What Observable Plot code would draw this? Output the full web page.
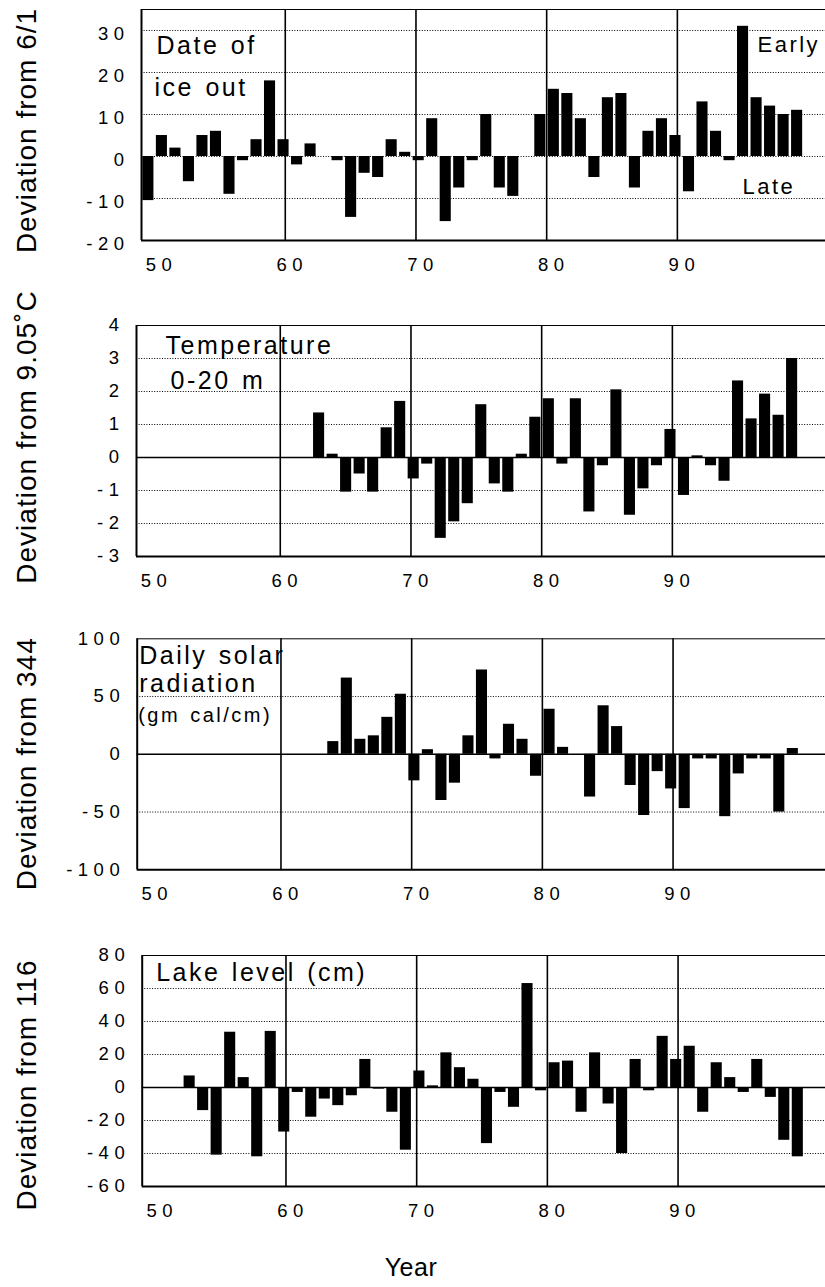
<!DOCTYPE html>
<html>
<head>
<meta charset="utf-8">
<script src="https://cdn.jsdelivr.net/npm/d3@7"></script>
<script src="https://cdn.jsdelivr.net/npm/@observablehq/plot@0.6"></script>
<style>
  body { margin: 0; background: #fff; font-family: "Liberation Sans", Arial, sans-serif; }
  #page { position: relative; width: 825px; height: 1287px; overflow: hidden; background: #fff; }
  .panel { position: absolute; left: 0; width: 825px; }
  .panel svg { position: absolute; left: 0; top: 0; overflow: visible; }
  g[aria-label="y-axis tick label"] text,
  g[aria-label="x-axis tick label"] text { letter-spacing: 5.5px; }
  text.note { letter-spacing: 2.5px; word-spacing: 2px; }
  text.ytitle { letter-spacing: 1px; }
  #year { position: absolute; left: 0; width: 822px; top: 1255px; text-align: center;
          font-size: 25px; line-height: 25px; letter-spacing: 0.5px; }
</style>
</head>
<body>
<div id="page"></div>
<script>
// ---- data -------------------------------------------------------------
const years = [50,51,52,53,54,55,56,57,58,59,60,61,62,63,64,65,66,67,68,69,
               70,71,72,73,74,75,76,77,78,79,80,81,82,83,84,85,86,87,88,89,
               90,91,92,93,94,95,96,97,98];

// Date of ice out, deviation from 6/1 (days; + = early)
const iceOut = [-10.5, 5, 2, -6, 5, 6, -9, -1, 4, 18,
                4, -2, 3, 0, -1, -14.5, -4, -5, 4, 1,
                -1, 9, -15.5, -7.5, -1, 10, -7.5, -9.5, 0, 10,
                16, 15, 9, -5, 14, 15, -7.5, 6, 9, 5,
                -8.4, 13, 6, -1, 31, 14, 12, 10, 11];

// Temperature 0-20 m, deviation from 9.05 C
const temperature = [null, null, null, null, null, null, null, null, null, null,
                     null, null, null, 1.35, 0.1, -1.05, -0.5, -1.05, 0.9, 1.7,
                     -0.65, -0.2, -2.45, -1.95, -1.4, 1.6, -0.8, -1.05, 0.1, 1.22,
                     1.78, -0.2, 1.78, -1.65, -0.25, 2.05, -1.75, -0.95, -0.25, 0.85,
                     -1.15, 0.05, -0.25, -0.72, 2.32, 1.17, 1.92, 1.28, 3.0];

// Daily solar radiation, deviation from 344
const solar = [null, null, null, null, null, null, null, null, null, null,
               null, null, null, null, 11, 66, 13, 16, 32, 52,
               -23, 4, -40, -25, 16, 73, -4, 26, 13, -19,
               39, 6, 0, -37, 42, 24, -27, -53, -15, -30,
               -47, -4, -4, -54, -17, -4, -4, -50, 5];

// Lake level (cm), deviation from 116
const lakeLevel = [null, null, null, 7, -14, -41, 33.5, 6, -42, 34,
                   -27, -3, -18, -7, -11, -5, 17, -1, -15, -38,
                   10, 1, 21, 12, 5, -34, -3, -12, 63, -2,
                   15, 16, -15, 21, -10, -40, 17, -2, 31, 17,
                   25, -15, 15, 6, -3, 17, -6, -32, -42];

const iceTicks = [-20, -10, 0, 10, 20, 30];
const tempTicks = [-3, -2, -1, 0, 1, 2, 3, 4];
const solarTicks = [-100, -50, 0, 50, 100];
const lakeTicks = [-60, -40, -20, 0, 20, 40, 60, 80];
const xTickLabels = [50, 60, 70, 80, 90];
const decadeLines = [60, 70, 80, 90];
const yTitles = ["Deviation from 6/1", "Deviation from 9.05˚C", "Deviation from 344", "Deviation from 116"];
const iceNotes = ["Date of", "ice out", "Early", "Late"];
const tempNotes = ["Temperature", "0-20 m"];
const solarNotes = ["Daily solar", "radiation", "(gm cal/cm)"];
const lakeNotes = ["Lake level (cm)"];
const xTitle = "Year";

// ---- layout -----------------------------------------------------------
const W = 825, H = 290, FRAME_H = 231, PX_PER_YEAR = 13.07, BAR_SPAN = 662.5;
const panels = [
  {values: iceOut, domain: [-20, 35], ticks: iceTicks, title: yTitles[0], top: 0, mt: 9, ml: 141,
   titleDy: 5.5, tickDy: 4, solidZero: false,
   notes: [{t: iceNotes[0], dx: 15, dy: 44.3, s: 25}, {t: iceNotes[1], dx: 13, dy: 86, s: 25},
           {t: iceNotes[2], dx: 616, dy: 42.7, s: 22}, {t: iceNotes[3], dx: 601, dy: 184, s: 22}]},
  {values: temperature, domain: [-3, 4], ticks: tempTicks, title: yTitles[1], top: 315, mt: 10, ml: 136,
   titleDy: -4, tickDy: 0, solidZero: true,
   notes: [{t: tempNotes[0], dx: 29, dy: 28.3, s: 25}, {t: tempNotes[1], dx: 34, dy: 63.3, s: 25}]},
  {values: solar, domain: [-100, 100], ticks: solarTicks, title: yTitles[2], top: 628, mt: 10.3, ml: 136.7,
   titleDy: 9.5, tickDy: 0, solidZero: true,
   notes: [{t: solarNotes[0], dx: 2, dy: 25.5, s: 25}, {t: solarNotes[1], dx: 2, dy: 53.4, s: 25},
           {t: solarNotes[2], dx: 1, dy: 83, s: 20}]},
  {values: lakeLevel, domain: [-60, 80], ticks: lakeTicks, title: yTitles[3], top: 945, mt: 10, ml: 141.7,
   titleDy: 14, tickDy: 0, solidZero: true,
   notes: [{t: lakeNotes[0], dx: 14, dy: 25, s: 25}]}
];

const FONT = '"Liberation Sans", Arial, Helvetica, sans-serif';
const page = document.getElementById("page");

panels.forEach(p => {
  const mb = H - p.mt - FRAME_H;
  const div = document.createElement("div");
  div.className = "panel";
  div.style.top = p.top + "px";
  div.style.height = H + "px";
  page.appendChild(div);

  const [y0, y1] = p.domain;
  const grid = p.ticks.filter(t => t !== y0 && t !== y1 && (t !== 0 || !p.solidZero));

  const bg = Plot.plot({
    width: W, height: H,
    marginLeft: p.ml, marginRight: 0, marginTop: p.mt, marginBottom: mb,
    style: {background: "transparent", overflow: "visible", fontFamily: FONT, color: "black"},
    x: {domain: [49, 49 + (W - p.ml) / PX_PER_YEAR]},
    y: {domain: p.domain},
    marks: [
      Plot.ruleY(grid, {stroke: "black", strokeWidth: 1, strokeDasharray: "1,1.6"}),
      p.solidZero ? Plot.ruleY([0], {stroke: "black", strokeWidth: 1.5}) : null,
      Plot.ruleX(decadeLines, {stroke: "black", strokeWidth: 1.6}),
      Plot.ruleY([y1], {stroke: "black", strokeWidth: 1}),
      Plot.ruleY([y0], {stroke: "black", strokeWidth: 2}),
      Plot.ruleX([49], {stroke: "black", strokeWidth: 2}),
      Plot.axisY({ticks: p.ticks, tickSize: 0, tickPadding: 12, tickFormat: d => String(d),
                  fontSize: 18.5, dy: p.tickDy, label: null}),
      Plot.axisX({ticks: xTickLabels, tickSize: 0, tickPadding: 17, tickFormat: d => String(d),
                  fontSize: 18.5, dx: 7, label: null}),
      Plot.text([p.title], {text: d => d, frameAnchor: "left", rotate: -90, textAnchor: "middle",
                  dx: 26.5 - p.ml, dy: p.titleDy, fontSize: 28}),
      ...p.notes.map(n => Plot.text([n.t], {text: d => d, frameAnchor: "top-left", textAnchor: "start",
                  lineAnchor: "bottom", dx: n.dx, dy: n.dy, fontSize: n.s}))
    ].filter(Boolean)
  });
  // tag the free text so the stylesheet can give it its letter spacing
  d3.select(bg).selectAll('g[aria-label="text"] text').each(function () {
    this.classList.add(yTitles.includes(this.textContent) ? "ytitle" : "note");
  });
  div.appendChild(bg);

  const data = years.map((y, i) => ({year: y, value: p.values[i]})).filter(d => d.value != null);
  const bars = Plot.plot({
    width: W, height: H,
    marginLeft: p.ml, marginRight: W - p.ml - BAR_SPAN, marginTop: p.mt, marginBottom: mb,
    style: {background: "transparent", overflow: "visible"},
    x: {type: "band", domain: years, paddingInner: 0.18, paddingOuter: 0.1, round: false, axis: null},
    y: {domain: p.domain, axis: null},
    marks: [
      Plot.barY(data, {x: "year", y: "value", fill: "black"})
    ]
  });
  div.appendChild(bars);
});

const yt = document.createElement("div");
yt.id = "year";
yt.textContent = xTitle;
page.appendChild(yt);
</script>
</body>
</html>
